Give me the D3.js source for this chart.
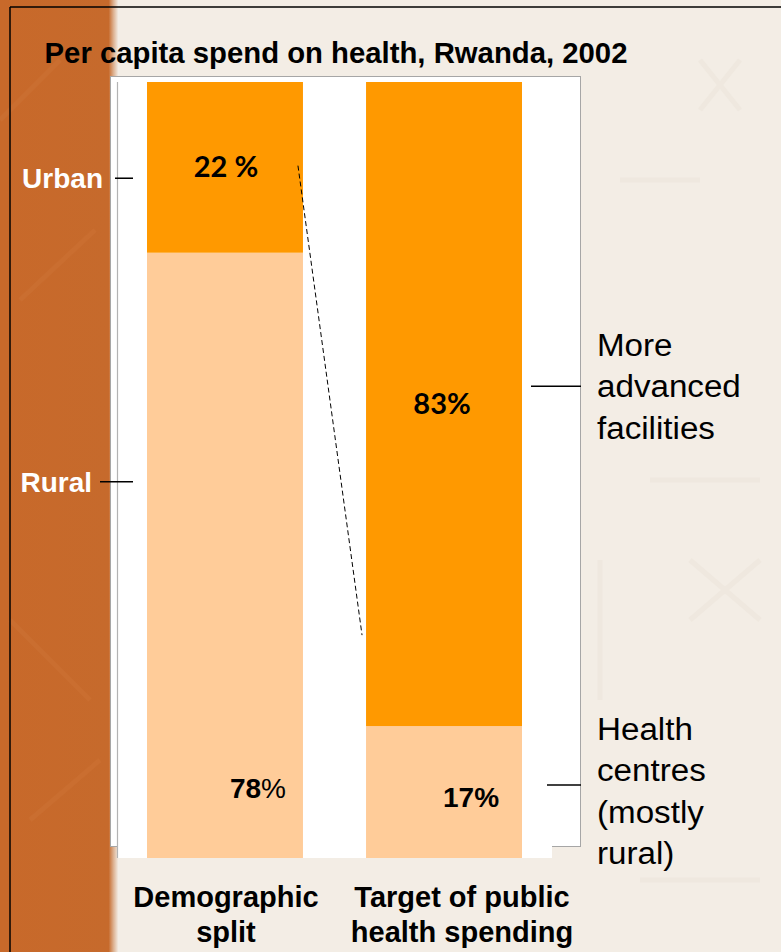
<!DOCTYPE html>
<html>
<head>
<meta charset="utf-8">
<script src="https://cdn.jsdelivr.net/npm/d3@7"></script>
<style>
  html, body { margin: 0; padding: 0; background: #f3ede5; }
  svg { display: block; }
</style>
</head>
<body>
<svg id="chart" width="781" height="952"></svg>
<script>
// Two stacked 100% columns: population split vs. where public health money goes
const categories = ["Demographic split", "Target of public health spending"];
const categoryLines = [["Demographic", "split"], ["Target of public", "health spending"]];
const lowerShare = [78, 17];   // rural population / health centres
const upperShare = [22, 83];   // urban population / more advanced facilities
const upperLabels = ["22 %", "83%"];
const lowerLabels = [["78", "%"], ["17%"]];
const title = "Per capita spend on health, Rwanda, 2002";
const leftNames = ["Urban", "Rural"];
const leftNameAt = [87.6, 48.5];          // height (in %) where the left names sit
const rightNames = [["More", "advanced", "facilities"], ["Health", "centres", "(mostly", "rural)"]];
const rightNameAt = [60.8, 9.4];          // height (in %) of the right leader lines

const W = 781, H = 952;
const svg = d3.select("#chart");
const ARIAL = "'Liberation Sans', Arial, sans-serif";

// ---- backdrop: beige page with a burnt-orange strip on the left
const defs = svg.append("defs");
const edge = defs.append("linearGradient").attr("id", "stripEdge")
  .attr("x1", 0).attr("x2", 1).attr("y1", 0).attr("y2", 0);
edge.append("stop").attr("offset", 0).attr("stop-color", "#c8692a");
edge.append("stop").attr("offset", 0.92).attr("stop-color", "#c66a2c");
edge.append("stop").attr("offset", 0.96).attr("stop-color", "#dcae8c");
edge.append("stop").attr("offset", 1).attr("stop-color", "#f1e9e0");

svg.append("rect").attr("width", W).attr("height", H).attr("fill", "#f3ede5");
svg.append("rect").attr("width", 118).attr("height", H).attr("fill", "url(#stripEdge)");

// faint tribal-style marks in the backdrop
const marks = svg.append("g").attr("fill", "none").attr("stroke-width", 5);
const faint = [
  [[0, 120], [60, 60]], [[20, 300], [95, 230]], [[10, 620], [90, 700]], [[30, 820], [100, 760]],
  [[700, 60], [740, 110]], [[740, 60], [700, 110]], [[620, 180], [700, 180]], [[650, 480], [760, 480]],
  [[600, 560], [600, 700]], [[690, 560], [760, 620]], [[760, 560], [690, 620]], [[640, 880], [760, 880]]
];
faint.forEach((p, i) => {
  marks.append("path").attr("d", d3.line()(p))
    .attr("stroke", i < 4 ? "#ca6e30" : "#efe8df");
});

// frame lines
svg.append("line").attr("x1", 10).attr("x2", 10).attr("y1", 7).attr("y2", H)
  .attr("stroke", "#000").attr("stroke-width", 1.5);
svg.append("line").attr("x1", 10).attr("x2", W).attr("y1", 7).attr("y2", 7)
  .attr("stroke", "#000").attr("stroke-width", 1.5);

// ---- scales
const x = d3.scaleBand().domain(categories).range([117, 552])
  .paddingInner(0.288).paddingOuter(0.137);
const y = d3.scaleLinear().domain([0, 100]).range([858, 82]);

// chart panels
svg.append("rect").attr("x", 110.5).attr("y", 76.5).attr("width", 470).attr("height", 770)
  .attr("fill", "#fff").attr("stroke", "#a6a6a6").attr("stroke-width", 1);
svg.append("rect").attr("x", 117).attr("y", y(100)).attr("width", 552 - 117).attr("height", y(0) - y(100))
  .attr("fill", "#fff");
svg.append("line").attr("x1", 117.5).attr("x2", 117.5).attr("y1", y(100)).attr("y2", y(0))
  .attr("stroke", "#b3b3b3").attr("stroke-width", 1.2);

// ---- stacked bars
const stackData = categories.map((c, i) => ({ cat: c, lower: lowerShare[i], upper: upperShare[i] }));
const stack = d3.stack().keys(["lower", "upper"])(stackData);
const fills = { lower: "#ffcc99", upper: "#ff9900" };

svg.append("g").selectAll("g").data(stack).join("g")
  .attr("fill", s => fills[s.key])
  .selectAll("rect").data(s => s).join("rect")
  .attr("x", d => x(d.data.cat))
  .attr("width", x.bandwidth())
  .attr("y", d => y(d[1]))
  .attr("height", d => y(d[0]) - y(d[1]));

// dashed connector between the two urban shares
svg.append("line")
  .attr("x1", x(categories[0]) + x.bandwidth() - 5).attr("y1", y(100 - upperShare[0] * 0.49))
  .attr("x2", x(categories[1]) - 4).attr("y2", y(100 - upperShare[0] * 3.24))
  .attr("stroke", "#000").attr("stroke-width", 1).attr("stroke-dasharray", "5,3");

// ---- value labels
const mid = c => x(c) + x.bandwidth() / 2;
upperLabels.forEach((lab, i) => {
  const cy = (y(lowerShare[i]) + y(100)) / 2;
  svg.append("text").attr("x", mid(categories[i]) + (i === 0 ? 1 : -2)).attr("y", cy + 10)
    .attr("text-anchor", "middle").attr("font-family", "Lato, sans-serif").attr("font-weight", 700)
    .attr("font-size", 29).attr("fill", "#000").text(lab);
});

const t78 = svg.append("text").attr("x", mid(categories[0]) + 33).attr("y", 798)
  .attr("text-anchor", "middle").attr("font-family", ARIAL)
  .attr("font-size", 28).attr("fill", "#000");
t78.append("tspan").attr("font-weight", 700).text(lowerLabels[0][0]);
t78.append("tspan").attr("font-weight", 400).text(lowerLabels[0][1]);
svg.append("text").attr("x", mid(categories[1]) + 27).attr("y", 807)
  .attr("text-anchor", "middle").attr("font-family", ARIAL)
  .attr("font-weight", 700).attr("font-size", 28).attr("fill", "#000").text(lowerLabels[1][0]);

// ---- title
svg.append("text").attr("x", 336).attr("y", 63).attr("text-anchor", "middle")
  .attr("font-family", ARIAL).attr("font-weight", 700)
  .attr("font-size", 29.3).attr("fill", "#000").text(title);

// ---- left names with leader ticks
const leftTickStart = [115, 100];
leftNames.forEach((n, i) => {
  const yy = y(leftNameAt[i]);
  svg.append("line").attr("x1", leftTickStart[i]).attr("x2", 133).attr("y1", yy).attr("y2", yy)
    .attr("stroke", "#000").attr("stroke-width", 1.5);
  svg.append("text").attr("x", leftTickStart[i] - (i === 0 ? 12 : 8)).attr("y", yy + 10)
    .attr("text-anchor", "end").attr("font-family", ARIAL)
    .attr("font-weight", 700).attr("font-size", 28).attr("fill", "#fff").text(n);
});

// ---- right names with leader ticks
const rightTickStart = [531, 547];
const rightFirstLine = [356, 740];
rightNames.forEach((lines, i) => {
  const yy = y(rightNameAt[i]);
  svg.append("line").attr("x1", rightTickStart[i]).attr("x2", 581).attr("y1", yy).attr("y2", yy)
    .attr("stroke", "#000").attr("stroke-width", 1.5);
  const t = svg.append("text").attr("font-family", ARIAL)
    .attr("font-size", 31).attr("fill", "#000")
    .attr("transform", "translate(597,0) scale(1.07,1)");
  lines.forEach((l, k) => t.append("tspan").attr("x", 0).attr("y", rightFirstLine[i] + k * 41.5).text(l));
});

// ---- category names under the bars
categoryLines.forEach((lines, i) => {
  const t = svg.append("text").attr("text-anchor", "middle")
    .attr("font-family", ARIAL).attr("font-weight", 700)
    .attr("font-size", 29).attr("fill", "#000");
  lines.forEach((l, k) => t.append("tspan").attr("x", mid(categories[i]) + (i === 0 ? 1 : 18))
    .attr("y", 907 + k * 35).text(l));
});
</script>
</body>
</html>
